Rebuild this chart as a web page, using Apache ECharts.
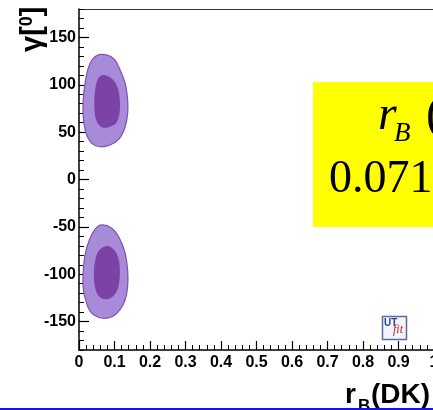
<!DOCTYPE html>
<html>
<head>
<meta charset="utf-8">
<script src="https://cdn.jsdelivr.net/npm/echarts@6/dist/echarts.min.js"></script>
<style>
html,body{margin:0;padding:0;background:#fff;}
#c{width:433px;height:410px;}
</style>
</head>
<body>
<div id="c"></div>
<script>
// y labelled ticks
var yLabelValues = [-150, -100, -50, 0, 50, 100, 150];
// 95% (outer) and 68% (inner) probability contours, [rB, gamma]
var upperOuter = [[0.064,132],[0.097,127.8],[0.114,117.3],[0.130,101.5],[0.137,83.9],[0.137,69.8],[0.130,55.7],[0.114,43.5],[0.087,36.4],[0.059,34.6],[0.036,38.2],[0.020,48.7],[0.012,66.2],[0.012,83.9],[0.017,101.5],[0.026,117.3],[0.040,127.8]];
var upperInner = [[0.068,110.2],[0.092,106.7],[0.108,97.9],[0.115,83.9],[0.114,69.8],[0.104,59.3],[0.087,55.7],[0.068,54.6],[0.054,58.5],[0.045,68],[0.043,83.9],[0.047,97.9],[0.054,106.7]];
var lowerOuter = [[0.064,-48],[0.092,-51.5],[0.114,-62],[0.130,-77.9],[0.137,-95.5],[0.137,-113],[0.130,-127],[0.115,-137.7],[0.097,-144],[0.078,-146.4],[0.054,-145.4],[0.032,-139.4],[0.020,-128.9],[0.012,-114.8],[0.012,-97.2],[0.017,-79.6],[0.029,-63.8],[0.045,-52.6]];
var lowerInner = [[0.076,-70.1],[0.097,-73.7],[0.111,-83.1],[0.115,-97.2],[0.112,-111.3],[0.101,-121.1],[0.080,-126.4],[0.059,-124.3],[0.047,-116.6],[0.042,-102.5],[0.045,-86.7],[0.054,-76.2]];

var outerFill = '#a78bd9', outerLine = '#7c52b2', innerFill = '#7d42a6';

function contourSeries(pts, fill, stroke) {
  return {
    type: 'custom',
    xAxisIndex: 0, yAxisIndex: 0,
    coordinateSystem: 'cartesian2d',
    data: pts,
    encode: {x: 0, y: 1},
    clip: true,
    silent: true,
    renderItem: function (params, api) {
      if (params.dataIndex !== 0) return null;
      var p = pts.map(function (d) { return api.coord(d); });
      return {
        type: 'polygon',
        shape: {points: p, smooth: 0.35},
        style: {fill: fill, stroke: stroke || null, lineWidth: stroke ? 1.2 : 0}
      };
    }
  };
}

function txt(s, x, y, font, fill, extra) {
  var o = {type: 'text', x: x, y: y, z: 11, style: {text: s, font: font, fill: fill || '#000', verticalAlign: 'middle', align: 'left'}};
  if (extra) Object.assign(o, extra);
  return o;
}

var chart = echarts.init(document.getElementById('c'), null, {renderer: 'canvas'});
var axisFont = {fontFamily: 'Liberation Sans', fontWeight: 'bold', fontSize: 16, color: '#000'};
chart.setOption({
  animation: false,
  backgroundColor: '#fff',
  grid: {left: 79, top: 9, width: 355, height: 341, containLabel: false, outerBoundsMode: 'none'},
  xAxis: [{
    type: 'value', min: 0, max: 1, interval: 0.1, position: 'bottom',
    axisLine: {onZero: false, lineStyle: {color: '#000', width: 1.5}},
    axisTick: {inside: true, length: 9, lineStyle: {color: '#000', width: 1.2}},
    minorTick: {show: true, splitNumber: 5, length: 5, lineStyle: {color: '#000', width: 1}},
    axisLabel: Object.assign({margin: 5, showMaxLabel: true}, axisFont),
    splitLine: {show: false}
  }, {
    type: 'value', min: 0, max: 1, position: 'top',
    axisLine: {show: true, onZero: false, lineStyle: {color: '#333', width: 1}},
    axisTick: {show: false}, axisLabel: {show: false}, splitLine: {show: false}
  }],
  yAxis: [{
    type: 'value', min: -180, max: 180, position: 'left',
    axisLine: {show: true, onZero: false, lineStyle: {color: '#000', width: 1.5}},
    axisTick: {inside: true, length: 10, customValues: yLabelValues, lineStyle: {color: '#000', width: 1.2}},
    axisLabel: Object.assign({margin: 3, customValues: yLabelValues}, axisFont),
    splitLine: {show: false}
  }, {
    type: 'value', min: -180, max: 180, interval: 10, position: 'left',
    axisLine: {show: false, onZero: false},
    axisTick: {inside: true, length: 5, lineStyle: {color: '#000', width: 1}},
    axisLabel: {show: false},
    splitLine: {show: false}
  }],
  series: [
    contourSeries(upperOuter, outerFill, outerLine),
    contourSeries(upperInner, innerFill),
    contourSeries(lowerOuter, outerFill, outerLine),
    contourSeries(lowerInner, innerFill)
  ],
  graphic: [
    {type: 'rect', shape: {x: 313, y: 82, width: 130, height: 145}, style: {fill: '#ffff00'}, z: 10},
    txt('r', 378, 116, 'italic 48px "Liberation Serif"'),
    txt('B', 394, 134, 'italic 27px "Liberation Serif"'),
    txt('(', 426, 116, '48px "Liberation Serif"'),
    txt('0.071', 329, 180, '46px "Liberation Serif"'),
    // y axis title (rotated)
    {type: 'text', x: 47, y: 52, rotation: Math.PI / 2, z: 11, style: {
      text: '{g|γ[}{s|0}{g|]}', verticalAlign: 'bottom', align: 'left',
      rich: {g: {font: 'bold 29px "Liberation Sans"', fill: '#000', verticalAlign: 'bottom'}, s: {font: 'bold 18px "Liberation Sans"', fill: '#000', verticalAlign: 'top'}}
    }},
    // x axis title
    txt('r', 345, 395, 'bold 28px "Liberation Sans"'),
    txt('B', 358, 406, 'bold 17px "Liberation Sans"'),
    txt('(DK)', 371, 395, 'bold 28px "Liberation Sans"'),
    // UTfit logo
    {type: 'rect', shape: {x: 382.5, y: 316.5, width: 24, height: 23}, style: {fill: '#f4f4fb', stroke: '#5a6aa8', lineWidth: 1.5}, z: 11},
    txt('UT', 384, 323.5, 'bold 10px "Liberation Sans"', '#2a3f9a', {z: 12}),
    txt('fit', 393, 330, 'italic 12px "Liberation Serif"', '#c0282a', {z: 12}),
    // bottom blue rule
    {type: 'line', shape: {x1: 0, y1: 409, x2: 433, y2: 409}, style: {stroke: '#1515e0', lineWidth: 2}, z: 13}
  ]
});
</script>
</body>
</html>
